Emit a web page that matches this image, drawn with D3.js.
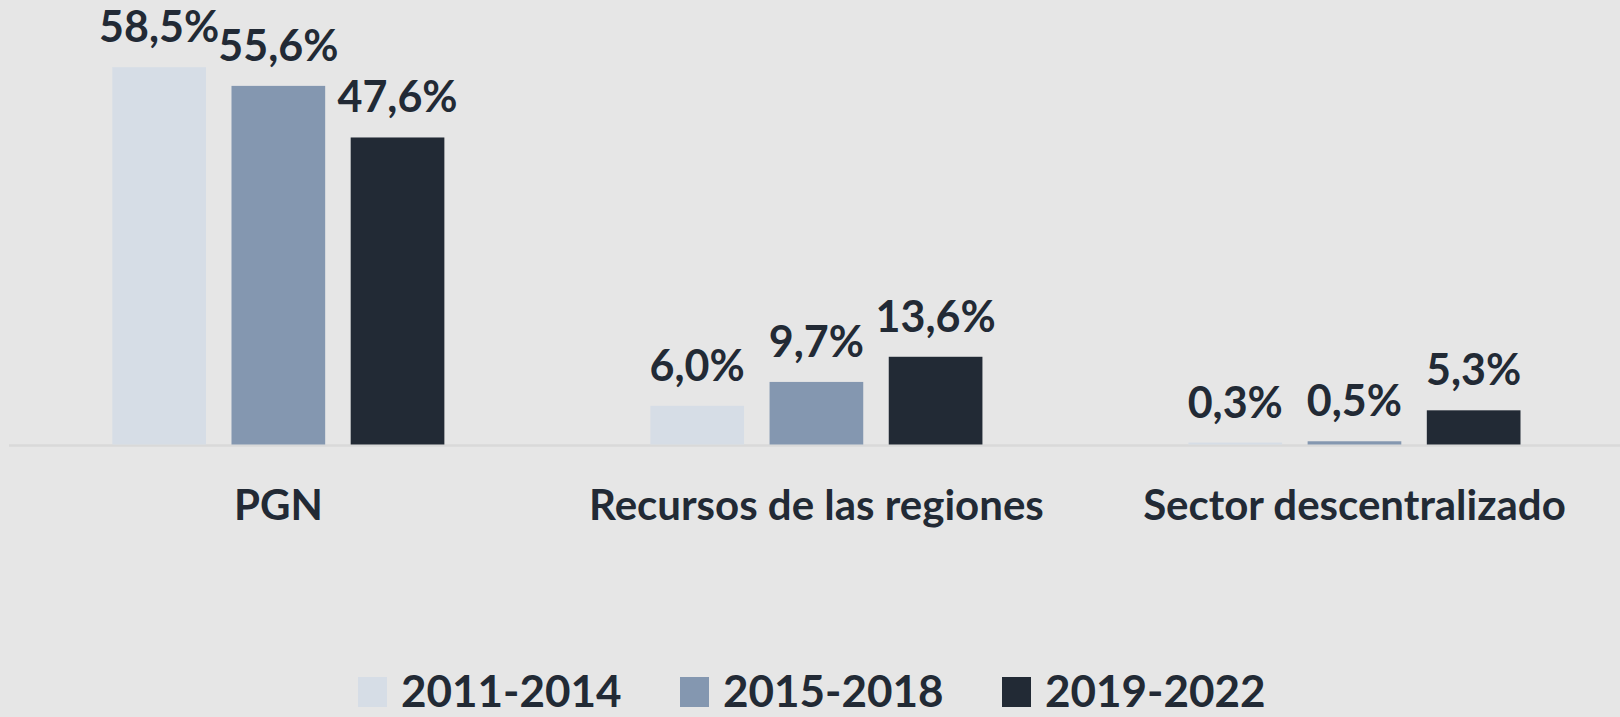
<!DOCTYPE html>
<html>
<head>
<meta charset="utf-8">
<script src="https://cdn.jsdelivr.net/npm/d3@7"></script>
<style>
  html, body { margin: 0; padding: 0; background: #e6e6e6; }
  svg { display: block; font-family: Lato, "Open Sans", sans-serif; font-weight: bold; }
</style>
</head>
<body>
<div id="chart"></div>
<script>
// chart data
const categories = ["PGN", "Recursos de las regiones", "Sector descentralizado"];
const periods = ["2011-2014", "2015-2018", "2019-2022"];
const v2011 = [58.5, 6.0, 0.3];
const v2015 = [55.6, 9.7, 0.5];
const v2019 = [47.6, 13.6, 5.3];
const colors = ["#d6dde6", "#8497b0", "#222a35"];

const WIDTH = 1620, HEIGHT = 717;
const BASE = 444.5;

const svg = d3.select("#chart").append("svg")
  .attr("width", WIDTH)
  .attr("height", HEIGHT);

svg.append("rect")
  .attr("width", WIDTH).attr("height", HEIGHT)
  .attr("fill", "#e6e6e6");

const seriesVals = [v2011, v2015, v2019];
const rows = categories.map((c, i) => ({
  cat: c,
  vals: periods.map((p, j) => ({period: p, value: seriesVals[j][i]}))
}));

const x0 = d3.scaleBand()
  .domain(categories)
  .range([9.3, 1623.5]);

const x1 = d3.scaleBand()
  .domain(periods)
  .range([103, x0.bandwidth() - 103])
  .paddingInner(0.214);

const y = d3.scaleLinear()
  .domain([0, 60])
  .range([BASE, BASE - 60 * 6.45]);

const color = d3.scaleOrdinal().domain(periods).range(colors);

// baseline
svg.append("line")
  .attr("x1", 9).attr("x2", WIDTH)
  .attr("y1", BASE + 1).attr("y2", BASE + 1)
  .attr("stroke", "#d9d9d9")
  .attr("stroke-width", 2.5);

const groups = svg.selectAll("g.grp")
  .data(rows)
  .enter().append("g")
  .attr("class", "grp")
  .attr("transform", d => `translate(${x0(d.cat)},0)`);

groups.selectAll("rect")
  .data(d => d.vals)
  .enter().append("rect")
  .attr("x", d => x1(d.period))
  .attr("y", d => y(d.value))
  .attr("width", x1.bandwidth())
  .attr("height", d => y(0) - y(d.value))
  .attr("fill", d => color(d.period));

groups.selectAll("text.val")
  .data(d => d.vals)
  .enter().append("text")
  .attr("class", "val")
  .attr("x", d => x1(d.period) + x1.bandwidth() / 2)
  .attr("y", d => y(d.value) - 25)
  .attr("text-anchor", "middle")
  .attr("font-size", "43px")
  .attr("fill", "#222a35")
  .text(d => d.value.toFixed(1).replace(".", ",") + "%");

// category labels
svg.selectAll("text.cat")
  .data(categories)
  .enter().append("text")
  .attr("class", "cat")
  .attr("x", d => x0(d) + x0.bandwidth() / 2)
  .attr("y", 520)
  .attr("text-anchor", "middle")
  .attr("font-size", "42px")
  .attr("fill", "#222a35")
  .text(d => d);

// legend
const legend = svg.selectAll("g.leg")
  .data(periods)
  .enter().append("g")
  .attr("class", "leg")
  .attr("transform", (d, i) => `translate(${358 + i * 322},0)`);

legend.append("rect")
  .attr("x", 0).attr("y", 677)
  .attr("width", 29).attr("height", 30)
  .attr("fill", d => color(d));

legend.append("text")
  .attr("x", 43).attr("y", 707)
  .attr("font-size", "44px")
  .attr("fill", "#222a35")
  .text(d => d);
</script>
</body>
</html>
